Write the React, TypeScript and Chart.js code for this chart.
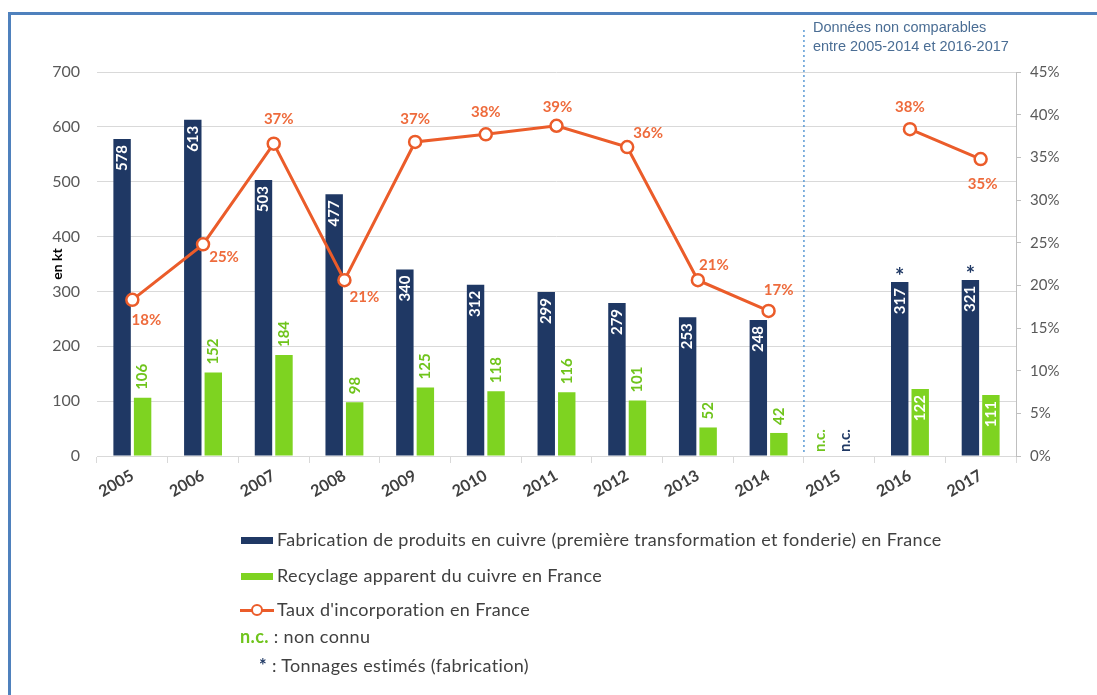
import React, { useEffect, useRef } from 'react';
import { Chart, registerables } from 'chart.js';
Chart.register(...registerables);

// ---- data ----
const years = ['2005', '2006', '2007', '2008', '2009', '2010', '2011', '2012', '2013', '2014', '2015', '2016', '2017'];
const fabrication = [578, 613, 503, 477, 340, 312, 299, 279, 253, 248, null, 317, 321];
const recyclage = [106, 152, 184, 98, 125, 118, 116, 101, 52, 42, null, 122, 111];
const taux = [18.3, 24.8, 36.6, 20.6, 36.8, 37.7, 38.7, 36.2, 20.6, 17.0, null, 38.3, 34.8];
const unknownYears = ['2015'];
const estimatedYears = ['2016', '2017'];
const recyclageLabelInside = ['2016', '2017'];
const leftTicks = [0, 100, 200, 300, 400, 500, 600, 700];
const rightTicks = [0, 5, 10, 15, 20, 25, 30, 35, 40, 45];

// ---- style ----
const NAVY = '#1f3864';
const GREEN = '#7ed321';
const ORANGE = '#eb5c2a';
const ORANGE_TXT = '#ee6b3c';
const TXT = '#404040';
const GRID = '#d9d9d9';
// label offsets (dx, dy) for the percentage labels
const tauxLabelOffsets: [number, number][] = [
  [14, 20], [21, 13], [5, -25], [20, 17], [0, -23], [0, -22], [1, -19], [21, -14], [16, -15], [10, -21], [0, 0], [0, -22], [2, 25],
];

function drawRot(ctx: CanvasRenderingContext2D, text: string, x: number, y: number, align: CanvasTextAlign, color: string, font: string) {
  ctx.save();
  ctx.translate(x, y);
  ctx.rotate(-Math.PI / 2);
  ctx.textAlign = align;
  ctx.textBaseline = 'middle';
  ctx.fillStyle = color;
  ctx.font = font;
  ctx.fillText(text, 0, 0);
  ctx.restore();
}

const overlay = {
  id: 'overlay',
  afterDatasetsDraw(chart: any) {
    const ctx: CanvasRenderingContext2D = chart.ctx;
    const xs = chart.scales.x;
    const area = chart.chartArea;
    const fab = chart.getDatasetMeta(0);
    const rec = chart.getDatasetMeta(1);
    const line = chart.getDatasetMeta(2);
    const barFont = 'bold 15px Lato';
    ctx.save();
    fab.data.forEach((el: any, i: number) => {
      const v = fabrication[i];
      if (v == null) return;
      drawRot(ctx, String(v), el.x, el.y + 6, 'right', '#ffffff', barFont);
      if (estimatedYears.includes(years[i])) {
        ctx.save();
        ctx.font = 'bold 22px Lato';
        ctx.fillStyle = NAVY;
        ctx.textAlign = 'center';
        ctx.textBaseline = 'middle';
        ctx.fillText('*', el.x, el.y - 5);
        ctx.restore();
      }
    });
    rec.data.forEach((el: any, i: number) => {
      const v = recyclage[i];
      if (v == null) return;
      if (recyclageLabelInside.includes(years[i])) {
        drawRot(ctx, String(v), el.x, el.y + 6, 'right', '#ffffff', barFont);
      } else {
        drawRot(ctx, String(v), el.x, el.y - 8, 'left', '#6fc41c', barFont);
      }
    });
    // percentages
    line.data.forEach((el: any, i: number) => {
      const v = taux[i];
      if (v == null) return;
      const [dx, dy] = tauxLabelOffsets[i];
      ctx.save();
      ctx.font = 'bold 15px Lato';
      ctx.fillStyle = ORANGE_TXT;
      ctx.textAlign = 'center';
      ctx.textBaseline = 'middle';
      ctx.fillText(Math.round(v) + '%', el.x + dx, el.y + dy);
      ctx.restore();
    });
    // n.c.
    unknownYears.forEach((yr) => {
      const idx = years.indexOf(yr);
      const cx = xs.getPixelForTick(idx);
      drawRot(ctx, 'n.c.', cx - 19, area.bottom - 4, 'left', '#6fc41c', 'bold 15px Lato');
      drawRot(ctx, 'n.c.', cx + 6, area.bottom - 4, 'left', NAVY, 'bold 15px Lato');
    });
    // separator
    const sepX = (xs.getPixelForTick(9) + xs.getPixelForTick(10)) / 2;
    ctx.save();
    ctx.strokeStyle = '#5b9bd5';
    ctx.lineWidth = 1.5;
    ctx.setLineDash([2, 3]);
    ctx.beginPath();
    ctx.moveTo(sepX, 22);
    ctx.lineTo(sepX, area.bottom - 4);
    ctx.stroke();
    ctx.restore();
    // annotation
    ctx.font = '14.5px "Liberation Sans"';
    ctx.fillStyle = '#4a6d94';
    ctx.textAlign = 'left';
    ctx.textBaseline = 'middle';
    ctx.fillText('Données non comparables', sepX + 9, 20);
    ctx.fillText('entre 2005-2014 et 2016-2017', sepX + 9, 39);
    // y title
    drawRot(ctx, 'en kt', 49, (area.top + area.bottom) / 2, 'center', '#000000', 'bold 14px Lato');
    ctx.restore();
  },
};

export default function App() {
  const ref = useRef<HTMLCanvasElement>(null);
  useEffect(() => {
    const chart = new Chart(ref.current as HTMLCanvasElement, {
      type: 'bar',
      data: {
        labels: years,
        datasets: [
          {
            type: 'bar',
            label: 'Fabrication de produits en cuivre (première transformation et fonderie) en France',
            data: fabrication as any,
            backgroundColor: NAVY,
            yAxisID: 'y',
            order: 1,
            barPercentage: 0.85,
            categoryPercentage: 0.58,
          },
          {
            type: 'bar',
            label: 'Recyclage apparent du cuivre en France',
            data: recyclage as any,
            backgroundColor: GREEN,
            yAxisID: 'y',
            order: 1,
            barPercentage: 0.85,
            categoryPercentage: 0.58,
          },
          {
            type: 'line',
            label: "Taux d'incorporation en France",
            data: taux as any,
            borderColor: ORANGE,
            borderWidth: 3,
            pointRadius: 6,
            pointBorderWidth: 2.5,
            pointBackgroundColor: '#ffffff',
            pointBorderColor: ORANGE,
            spanGaps: false,
            tension: 0,
            yAxisID: 'y2',
            order: 0,
          } as any,
        ],
      },
      options: {
        responsive: false,
        animation: false,
        layout: { padding: { top: 64, left: 0, right: 0, bottom: 0 } },
        plugins: { legend: { display: false }, tooltip: { enabled: false }, title: { display: false } },
        scales: {
          x: {
            offset: true,
            grid: { display: true, drawOnChartArea: false, drawTicks: true, tickLength: 7, color: GRID, offset: true },
            border: { display: true, color: GRID },
            ticks: {
              color: TXT,
              font: { family: 'Lato', size: 16, weight: 'bold' },
              minRotation: 30,
              maxRotation: 30,
              padding: 3,
            },
            afterFit: (s: any) => { s.height = 62; },
          },
          y: {
            position: 'left',
            min: 0,
            max: 700,
            afterBuildTicks: (s: any) => { s.ticks = leftTicks.map((v) => ({ value: v })); },
            grid: { color: GRID, drawTicks: false, lineWidth: 1 },
            border: { display: false },
            ticks: { color: '#595959', font: { family: 'Lato', size: 16 }, padding: 17 },
            afterFit: (s: any) => { s.width = 89; },
          },
          y2: {
            position: 'right',
            min: 0,
            max: 45,
            afterBuildTicks: (s: any) => { s.ticks = rightTicks.map((v) => ({ value: v })); },
            grid: { drawOnChartArea: false, drawTicks: true, tickLength: 5, color: '#bfbfbf' },
            border: { display: true, color: '#bfbfbf' },
            ticks: { color: '#595959', font: { family: 'Lato', size: 15 }, padding: 9, callback: (v: any) => v + '%' },
            afterFit: (s: any) => { s.width = 73; },
          },
        },
      } as any,
      plugins: [overlay],
    });
    return () => chart.destroy();
  }, []);

  const legendText: React.CSSProperties = {
    position: 'absolute',
    fontFamily: 'Lato, sans-serif',
    fontSize: 18,
    letterSpacing: '0.35px',
    color: TXT,
    lineHeight: '20px',
    whiteSpace: 'nowrap',
  };

  return (
    <div style={{ position: 'relative', width: 1081, height: 679, overflow: 'hidden' }}>
      <div style={{ position: 'fixed', left: 8, top: 12, width: 1200, height: 800, borderTop: '3px solid #4f81bd', borderLeft: '3px solid #4f81bd', pointerEvents: 'none' }} />
      <canvas ref={ref} width={1081} height={510} style={{ position: 'absolute', left: 0, top: 0, width: 1081, height: 510 }} />
      {/* legend */}
      <div style={{ position: 'absolute', left: 233, top: 529, width: 32, height: 7, background: NAVY }} />
      <div style={{ ...legendText, left: 269, top: 521 }}>Fabrication de produits en cuivre (première transformation et fonderie) en France</div>
      <div style={{ position: 'absolute', left: 233, top: 565, width: 32, height: 7, background: GREEN }} />
      <div style={{ ...legendText, left: 269, top: 557 }}>Recyclage apparent du cuivre en France</div>
      <div style={{ position: 'absolute', left: 232, top: 601, width: 34, height: 3, background: ORANGE }} />
      <div style={{ position: 'absolute', left: 243, top: 596, width: 8, height: 8, borderRadius: '50%', background: '#fff', border: `2.5px solid ${ORANGE}` }} />
      <div style={{ ...legendText, left: 269, top: 591 }}>Taux d'incorporation en France</div>
      <div style={{ ...legendText, left: 232, top: 618 }}>
        <span style={{ color: '#6fc41c', fontWeight: 'bold' }}>n.c.</span> : non connu
      </div>
      <div style={{ ...legendText, left: 251, top: 647 }}>
        <span style={{ color: NAVY, fontWeight: 'bold' }}>*</span> : Tonnages estimés (fabrication)
      </div>
    </div>
  );
}
